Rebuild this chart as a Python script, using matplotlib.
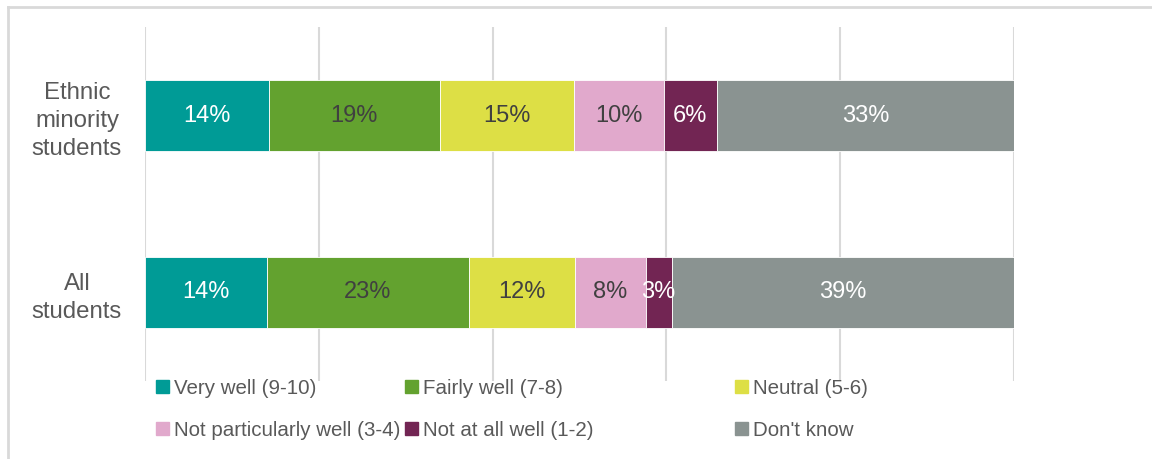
import numpy as np
import matplotlib
matplotlib.use("Agg")
import matplotlib.pyplot as plt
from matplotlib.patches import Rectangle
from matplotlib.lines import Line2D

plt.rcParams['font.family'] = ['Liberation Sans', 'DejaVu Sans']

groups = ['Ethnic\nminority\nstudents', 'All\nstudents']
categories = ['Very well (9-10)', 'Fairly well (7-8)', 'Neutral (5-6)',
              'Not particularly well (3-4)', 'Not at all well (1-2)', "Don't know"]
colors = ['#009B96', '#63A22F', '#DDDF45', '#E1A9CC', '#722553', '#8A9391']
text_colors = ['white', '#404040', '#404040', '#404040', 'white', 'white']

# segment widths as drawn (percent of bar)
ethnic_vals = [14.3, 19.6, 15.5, 10.3, 6.1, 34.2]
all_vals = [14.0, 23.3, 12.2, 8.1, 3.0, 39.4]
# printed data labels
ethnic_labels = ['14%', '19%', '15%', '10%', '6%', '33%']
all_labels = ['14%', '23%', '12%', '8%', '3%', '39%']

values = np.array([ethnic_vals, all_vals])
labels = [ethnic_labels, all_labels]

W, H = 1152, 459
fig = plt.figure(figsize=(W / 100, H / 100), dpi=100)
ax = fig.add_axes([145 / W, (H - 381) / H, (1014 - 145) / W, (381 - 27) / H])

y = np.arange(len(groups))
left = np.zeros(len(groups))
for i, cat in enumerate(categories):
    ax.barh(y, values[:, i], left=left, height=0.4, color=colors[i],
            edgecolor='white', linewidth=0.6, label=cat, zorder=3)
    for j in range(len(groups)):
        ax.text(left[j] + values[j, i] / 2, y[j], labels[j][i], ha='center',
                va='center', fontsize=17, color=text_colors[i], zorder=4)
    left += values[:, i]

ax.set_xlim(0, 100)
ax.set_ylim(1.5, -0.5)
ax.set_xticks(np.arange(0, 101, 20))
ax.set_xticklabels([])
ax.grid(axis='x', color='#D9D9D9', linewidth=1.5, zorder=0)
ax.set_yticks(y)
ax.set_yticklabels(groups, fontsize=17.3, color='#595959',
                   multialignment='center', linespacing=1.35)
ax.tick_params(length=0, pad=16.5)
for s in ax.spines.values():
    s.set_visible(False)

# legend drawn by hand in three columns
col_x = [156, 405, 735]
row_y = [386, 428]
for k, cat in enumerate(categories):
    cx = col_x[k % 3]
    cy = row_y[k // 3]
    fig.add_artist(Rectangle((cx / W, (H - cy - 6.5) / H), 13 / W, 13 / H,
                             transform=fig.transFigure, color=colors[k]))
    fig.text((cx + 18) / W, (H - cy) / H, cat, fontsize=14.8, color='#595959',
             va='center_baseline', ha='left')

# chart border
fig.add_artist(Line2D([8 / W, 1.0], [1 - 7 / H, 1 - 7 / H], color='#D9D9D9', lw=2))
fig.add_artist(Line2D([8 / W, 8 / W], [0, 1 - 7 / H], color='#D9D9D9', lw=2))

fig.savefig('out.png', dpi=100)
